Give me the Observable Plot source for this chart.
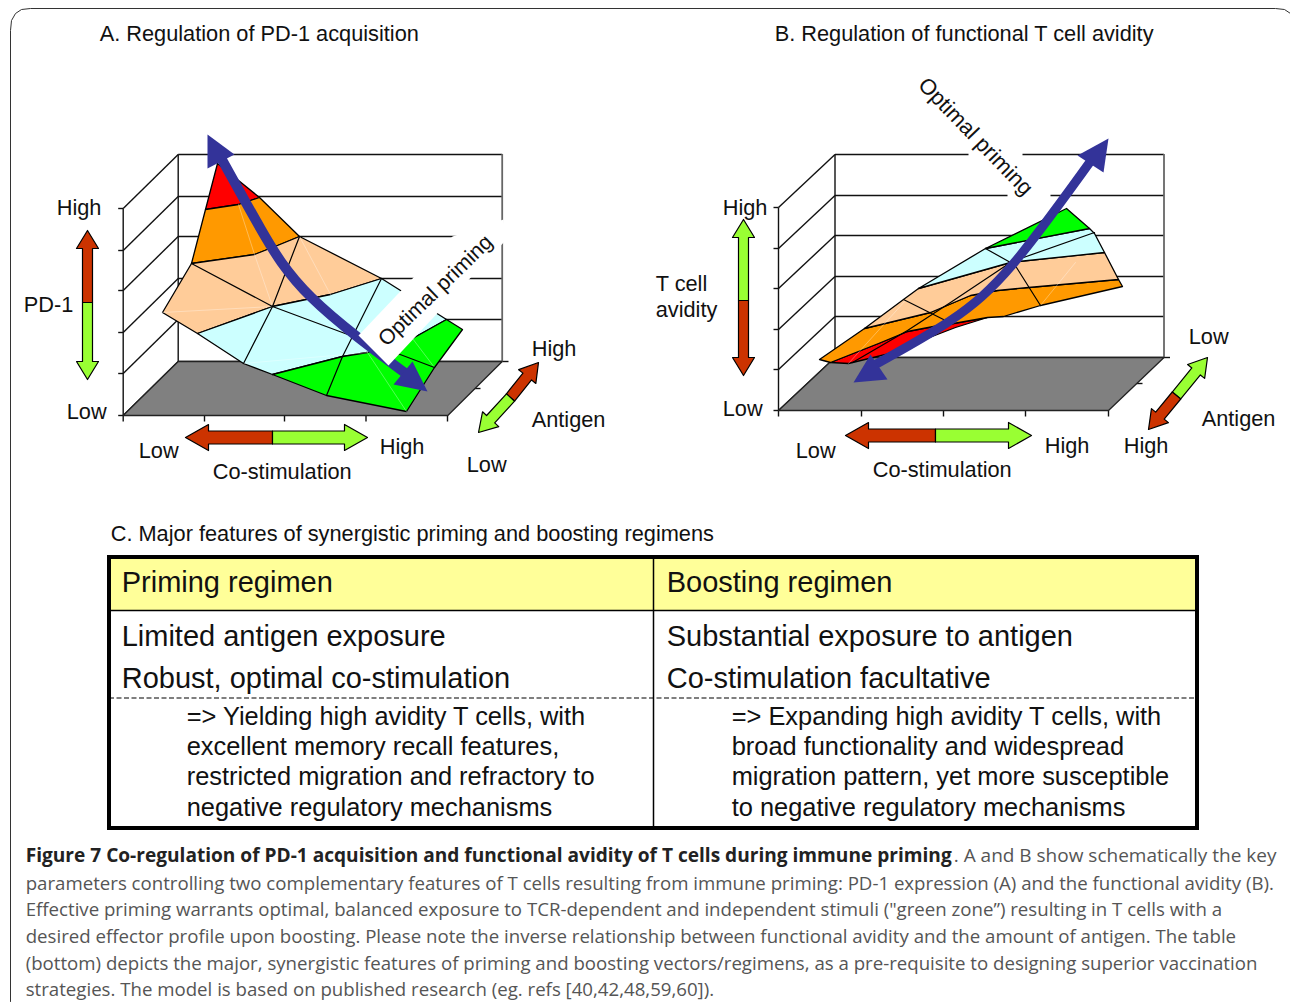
<!DOCTYPE html>
<html><head><meta charset="utf-8">
<script src="https://cdn.jsdelivr.net/npm/d3@7"></script>
<script src="https://cdn.jsdelivr.net/npm/@observablehq/plot@0.6"></script>
<style>html,body{margin:0;padding:0;background:#fff}svg{display:block}</style>
</head><body><div id="chart"></div>
<script>
const RED="#ff0000",ORANGE="#ff9900",PEACH="#ffcc99",CYAN="#ccffff",GREEN="#00ff00",GREY="#808080",UP="#cc3300",LIME="#99ff33",BLUE="#333399";

const levelsA=[154,196,236,278,319,361];
const levelsB=[154,195,235,276,316,357];
const tickXA=[122.7,204,284,365.5,447];
const tickXB=[778,861,943,1025,1108];
const floorA=[[122.7,415],[177.7,361],[501.7,361],[447.3,415]];
const floorB=[[778,410],[834.5,357],[1163.5,357],[1108,410]];

const facesA=[
 {c:RED,p:[[217,163],[205,209],[238,204],[259,197]]},
 {c:ORANGE,p:[[205,209],[238,204],[259,197],[299,236],[277,245],[254,254],[191,263]]},
 {c:PEACH,p:[[191,263],[162,312],[197,333],[272,306],[330,294],[381,278],[299,236],[277,245],[254,254]]},
 {c:CYAN,p:[[197,333],[243,363],[272,374],[342,356],[367,352],[412,338],[446,319],[381,278],[330,294],[272,306]]},
 {c:GREEN,p:[[272,374],[326,395],[406,411],[434,367],[462,329],[446,319],[412,338],[367,352],[342,356]]}
];
const innerA=[
 [[299,236],[272,306],[243,363]],
 [[191,263],[272,306],[358,338]],
 [[381,278],[342,356],[326,395]],
 [[397,353],[434,367]]
];
const softA=[[[162,312],[272,306]],[[243,363],[367,352]],[[238,204],[254,254],[272,306]],[[299,236],[330,294]],[[367,352],[406,411]],[[412,338],[434,367]]];

const facesB=[
 {c:RED,p:[[830,362],[878,343],[907,331],[933,326],[953,323],[987,317],[955,327],[885,354],[848,363]]},
 {c:ORANGE,p:[[819,359],[864,328],[930,312],[970,295],[997,290],[1028,287],[1118,279],[1122,286],[1040,305],[1003,316],[987,317],[953,323],[933,326],[907,331],[878,343],[830,362]]},
 {c:PEACH,p:[[864,328],[903,299],[918,288],[1010,262],[1018,261],[1104,252],[1118,279],[1028,287],[997,290],[970,295],[930,312]]},
 {c:CYAN,p:[[918,288],[985,248],[1089,228],[1094,233],[1104,252],[1018,261],[1010,262]]},
 {c:GREEN,p:[[985,248],[1066,208],[1089,228]]}
];
const innerB=[
 [[903,299],[943,319]],
 [[1010,262],[950,302],[907,330],[852,362]],
 [[1016,267],[1040,305]],
 [[985,248],[1010,262]],
 [[1023,257],[1094,232]]
];
const softB=[[[848,363],[905,300]],[[1040,305],[1075,262]]];

const shaftA=[[222,160],[260,228],[311,297],[412,378]];
const headsA=[[[207,134],[207,168],[234,154]],[[427,391],[393,384],[412,361]]];
const whiteA=[[358,335],[388,365],[505,240],[503,219],[452,236]];
const shaftB=[[1092,158],[1013,263],[950,320],[875,364]];
const headsB=[[[1108,138],[1077,155],[1103,172]],[[853,382],[887,379],[870,354]]];
const whiteB=[[[968,154],[1022,154]],[[1007,195],[1050,195]]];

// double arrows: [tip, split, tip, colour at first tip, colour at second tip, shaft half, head half, head length]
const arrows=[
 [[87,230],[87,302],[87,379],UP,LIME,5,11,18],
 [[185,437],[272,437],[367,437],UP,LIME,6.5,13,23],
 [[538,362],[510,397],[478,432],UP,LIME,5.5,11,18],
 [[743,219],[743,300],[743,375],LIME,UP,5,11,18],
 [[845,435],[935,435],[1031,435],UP,LIME,6.5,13,23],
 [[1207,357],[1176,395],[1148,429],LIME,UP,5.5,11,18]
];

const labels=[
 ["A. Regulation of PD-1 acquisition",100,33],
 ["High",57,207],["Low",67,411],["PD-1",24,304],["Low",139,450],["High",380,446],["Co-stimulation",213,471],
 ["High",532,348],["Antigen",532,419],["Low",467,464],
 ["B. Regulation of functional T cell avidity",775,33],
 ["High",723,207],["T cell",656,283],["avidity",656,309],["Low",723,408],["Low",796,450],["High",1045,445],
 ["Co-stimulation",873,469],["Low",1189,336],["Antigen",1202,418],["High",1124,445],
 ["C. Major features of synergistic priming and boosting regimens",111,533]
];
const tableHeads=[["Priming regimen",122,582],["Boosting regimen",667,582]];
const tableLarge=[["Limited antigen exposure",122,636],["Robust, optimal co-stimulation",122,678],["Substantial exposure to antigen",667,636],["Co-stimulation facultative",667,678]];
const tableSmall=[
 ["=> Yielding high avidity T cells, with",187,716],["excellent memory recall features,",187,746],["restricted migration and refractory to",187,776],["negative regulatory mechanisms",187,807],
 ["=> Expanding high avidity T cells, with",732,716],["broad functionality and widespread",732,746],["migration pattern, yet more susceptible",732,776],["to negative regulatory mechanisms",732,807]
];
const captionBold=[["Figure 7 Co-regulation of PD-1 acquisition and functional avidity of T cells during immune priming",26,855]];
const captionFirst=[[". A and B show schematically the key",954,855]];
const captionText=[
 ["parameters controlling two complementary features of T cells resulting from immune priming: PD-1 expression (A) and the functional avidity (B).",26,883],
 ["Effective priming warrants optimal, balanced exposure to TCR-dependent and independent stimuli (\"green zone”) resulting in T cells with a",26,909],
 ["desired effector profile upon boosting. Please note the inverse relationship between functional avidity and the amount of antigen. The table",26,936],
 ["(bottom) depicts the major, synergistic features of priming and boosting vectors/regimens, as a pre-requisite to designing superior vaccination",26,963],
 ["strategies. The model is based on published research (eg. refs [40,42,48,59,60]).",26,989]
];
const frame=[[10,1001],[10,30],[11,20],[15,13],[21,9],[30,8],[1275,8],[1284,9],[1290,13]];

const closed=p=>[...p,p[0]];
const face=(p,c,sw=1.3,stroke="#000")=>Plot.line(closed(p),{fill:c,stroke,strokeWidth:sw,strokeLinejoin:"round"});
function arrowFaces([a,m,b,ca,cb,s,h,l]){
 const side=(tip,mid)=>{
  const dx=tip[0]-mid[0],dy=tip[1]-mid[1],L=Math.hypot(dx,dy),ux=dx/L,uy=dy/L,nx=-uy,ny=ux;
  const bx=tip[0]-ux*l,by=tip[1]-uy*l;
  return [[mid[0]+nx*s,mid[1]+ny*s],[bx+nx*s,by+ny*s],[bx+nx*h,by+ny*h],tip,[bx-nx*h,by-ny*h],[bx-nx*s,by-ny*s],[mid[0]-nx*s,mid[1]-ny*s]];
 };
 return [face(side(a,m),ca,1.2),face(side(b,m),cb,1.2)];
}
function box(levels,tickX,floor,rightTick){
 const [fl,bl,br,fr]=floor, dy=fl[1]-bl[1], top=levels[0];
 const segs=[];
 levels.forEach(y=>{segs.push([bl[0],y,br[0],y]);segs.push([fl[0],y+dy,bl[0],y]);segs.push([fl[0]-5,y+dy,fl[0],y+dy]);});
 segs.push([bl[0],top,bl[0],bl[1]],[fl[0],top+dy,fl[0],fl[1]]);
 tickX.forEach(x=>segs.push([x,fl[1],x,fl[1]+6]));
 rightTick.forEach(([x,y])=>segs.push([x,y,x+6,y]));
 return [
  Plot.link(segs,{x1:d=>d[0],y1:d=>d[1],x2:d=>d[2],y2:d=>d[3],stroke:"#111",strokeWidth:1.4}),
  Plot.ruleX([br[0]],{y1:top,y2:br[1],stroke:"#666",strokeWidth:1.8}),
  face(floor,GREY,1.3,"#222")
 ];
}
const soft=l=>l.map(p=>Plot.line(p,{stroke:"#fff",strokeWidth:.6,strokeOpacity:.55}));
const hard=l=>l.map(p=>Plot.line(p,{stroke:"#000",strokeWidth:1.2}));
const shaft=(p,w)=>Plot.line(p,{curve:"natural",stroke:BLUE,strokeWidth:w});
const txt=(rows,size,o={})=>Plot.text(rows,{x:d=>d[1],y:d=>d[2],text:d=>d[0],textAnchor:"start",lineAnchor:"middle",fontSize:size,fill:"#111",dx:-0.8,dy:0.6,...o});

const chart=Plot.plot({
 width:1290,height:1004,margin:0,
 x:{domain:[0,1290],range:[0,1290],axis:null},
 y:{domain:[0,1004],range:[0,1004],axis:null},
 style:{background:"#fff",fontFamily:"'Liberation Sans',Arial,sans-serif"},
 marks:[
  Plot.line(frame,{stroke:"#333",strokeWidth:1}),
  // panel A
  ...box(levelsA,tickXA,floorA,[[502,361],[474,388]]),
  ...facesA.map(f=>face(f.p,f.c)),
  ...soft(softA),...hard(innerA),
  shaft(shaftA,10),
  ...headsA.slice(0,1).map(h=>face(h,BLUE,0,BLUE)),
  face(whiteA,"#fff",0,"#fff"),
  ...headsA.slice(1).map(h=>face(h,BLUE,0,BLUE)),
  Plot.text(["Optimal priming"],{x:435,y:290,text:d=>d,rotate:-44,fontSize:21.3,fill:"#111"}),
  // panel B
  ...box(levelsB,tickXB,floorB,[[1163.5,357],[1136,383]]),
  Plot.link(whiteB,{x1:d=>d[0][0],y1:d=>d[0][1],x2:d=>d[1][0],y2:d=>d[1][1],stroke:"#fff",strokeWidth:3}),
  ...facesB.map(f=>face(f.p,f.c)),
  ...soft(softB),...hard(innerB),
  shaft(shaftB,9),
  ...headsB.map(h=>face(h,BLUE,0,BLUE)),
  Plot.text(["Optimal priming"],{x:975,y:136,text:d=>d,rotate:46,fontSize:22,fill:"#111"}),
  ...arrows.flatMap(arrowFaces),
  txt(labels,21.75),
  // table
  Plot.rect([[109,653,557,610]],{x1:d=>d[0],x2:d=>d[1],y1:d=>d[2],y2:d=>d[3],fill:"#ffff99"}),
  Plot.rect([[653,1197,557,610]],{x1:d=>d[0],x2:d=>d[1],y1:d=>d[2],y2:d=>d[3],fill:"#ffff99"}),
  Plot.ruleY([610],{x1:109,x2:1197,stroke:"#000",strokeWidth:1.5}),
  Plot.ruleY([697.5],{x1:109,x2:1197,stroke:"#000",strokeWidth:1.1,strokeDasharray:"5 2.5"}),
  Plot.ruleX([653],{y1:557,y2:828,stroke:"#000",strokeWidth:1.5}),
  Plot.rect([[109,1197,557,828]],{x1:d=>d[0],x2:d=>d[1],y1:d=>d[2],y2:d=>d[3],fill:"none",stroke:"#000",strokeWidth:4}),
  txt(tableHeads,29),txt(tableLarge,29),txt(tableSmall,25.4),
  // caption
  txt(captionBold,19.1,{fontFamily:"'Open Sans'",fontWeight:"bold",fill:"#222"}),
  txt(captionFirst,19,{fontFamily:"'Open Sans'",fill:"#555"}),
  txt(captionText,18.65,{fontFamily:"'Open Sans'",fill:"#555"})
 ]
});
document.getElementById("chart").append(chart);
</script></body></html>
